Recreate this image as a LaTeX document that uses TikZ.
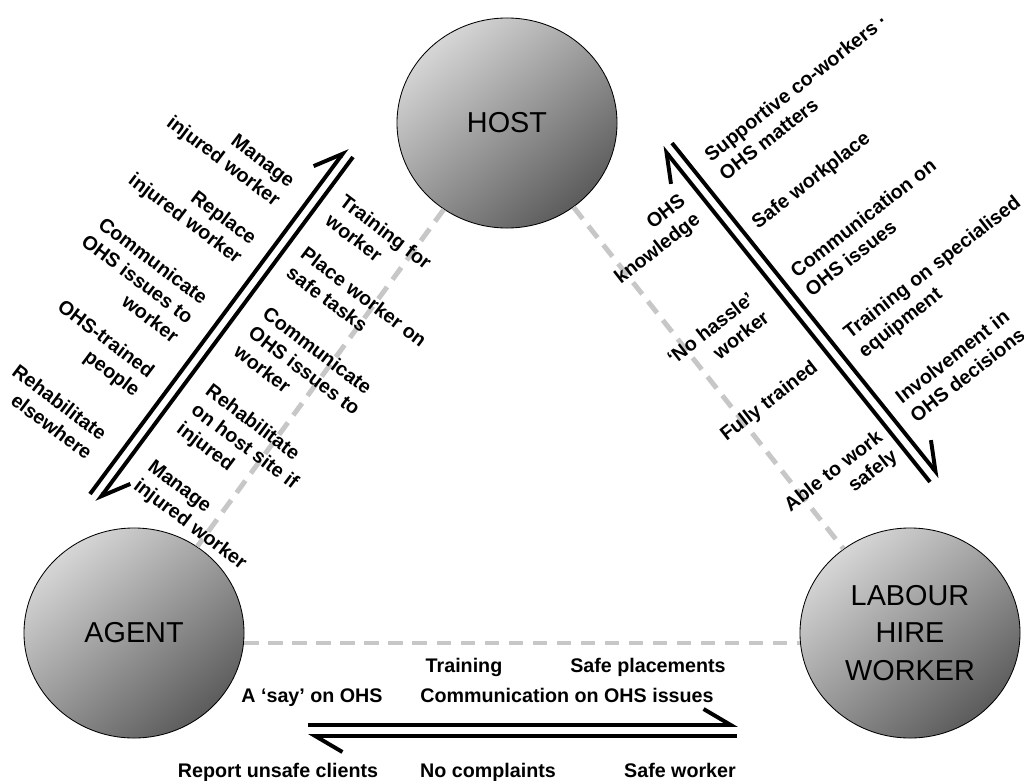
\documentclass[tikz,border=0pt]{standalone}
\usepackage{fontspec}
\setmainfont{Liberation Sans}
\usetikzlibrary{shapes.geometric,arrows.meta}
\tikzset{
    party/.style={ellipse,draw,line width=0.6pt,minimum width=5.5cm,minimum height=5.25cm,inner sep=0pt,
        top color=black!16,bottom color=black!64,shading angle=40,align=center,
        font=\fontsize{20.5}{26.5}\selectfont},
    link/.style={draw=black!22,line width=3.5pt,dash pattern=on 0.37cm off 0.23cm},
    flow/.style={line width=2.8pt,arrows={-Straight Barb[harpoon,length=0.68cm,width=0.8cm]}},
    lbl/.style={inner sep=0pt,font=\fontsize{14}{17}\selectfont\bfseries},
    tagr/.style={lbl,rotate=#1,anchor=north east,align=right},
    tagl/.style={lbl,rotate=#1,anchor=north west,align=left},
    }

\begin{document}
\begin{tikzpicture}[x=0.025cm,y=-0.025cm]
    \useasboundingbox (0,0) rectangle (1024,781);

    \node[party] (host) at (507,123) {HOST};
    \node[party] (agent) at (134,633) {AGENT};
    \node[party] (lhw) at (910,633) {LABOUR\\HIRE\\WORKER};

    \draw[link] (host) -- (agent);
    \draw[link] (host) -- (lhw);
    \draw[link] ([yshift=-0.25cm]agent.east) -- ([yshift=-0.25cm]lhw.west);

    % agent <-> host
    \coordinate (a1) at (90,494);
    \coordinate (a2) at (347,148);
    \coordinate (b1) at (353,157);
    \coordinate (b2) at (97,502);
    \draw[flow] (a1) to (a2);
    \draw[flow] (b1) to (b2);

    % host <-> labour hire worker
    \coordinate (c1) at (930,482);
    \coordinate (c2) at (662,147);
    \coordinate (d1) at (672,143);
    \coordinate (d2) at (940,477);
    \draw[flow] (c1) to (c2);
    \draw[flow] (d1) to (d2);

    % agent <-> labour hire worker
    \coordinate (e1) at (308,725);
    \coordinate (e2) at (738,725);
    \coordinate (f1) at (737,736);
    \coordinate (f2) at (308,736);
    \draw[flow] (e1) to (e2);
    \draw[flow] (f1) to (f2);

    \node[tagr=-37] (ah1) at (297,177) {Manage\\injured worker};
    \node[tagr=-37] (ah2) at (259,234) {Replace\\injured worker};
    \node[tagr=-37] (ah3) at (210,294) {Communicate\\OHS issues to\\worker};
    \node[tagr=-37] (ah4) at (157,367) {OHS-trained\\people};
    \node[tagr=-37] (ah5) at (109,430) {Rehabilitate\\elsewhere};

    \node[tagl=-37] (ha1) at (347,193) {Training for\\worker};
    \node[tagl=-37] (ha2) at (308,245) {Place worker on\\safe tasks};
    \node[tagl=-37] (ha3) at (270,305) {Communicate\\OHS issues to\\worker};
    \node[tagl=-37] (ha4) at (213,382) {Rehabilitate\\on host site if\\injured};
    \node[tagl=-37] (ha5) at (155,458) {Manage\\injured worker};

    \node[tagl=38] (hw1) at (702,151) {Supportive co-workers ·\\OHS matters};
    \node[tagl=38] (hw2) at (749,218) {Safe workplace};
    \node[tagl=38] (hw3) at (788,267) {Communication on\\OHS issues};
    \node[tagl=38] (hw4) at (841,328) {Training on  specialised\\equipment};
    \node[tagl=38] (hw5) at (893,393) {Involvement in\\OHS decisions};

    \node[tagr=38] (wh1) at (678,192) {OHS\\knowledge};
    \node[tagr=38] (wh2) at (747,290) {‘No hassle’\\worker};
    \node[tagr=38] (wh3) at (810,358) {Fully trained};
    \node[tagr=38] (wh4) at (875,428) {Able to work\\safely};

    \node[lbl,anchor=base] (aw1) at (464,672) {Training};
    \node[lbl,anchor=base] (aw2) at (648,672) {Safe placements};
    \node[lbl,anchor=base] (aw3) at (312,702) {A ‘say’ on OHS};
    \node[lbl,anchor=base] (aw4) at (567,702) {Communication on OHS issues};
    \node[lbl,anchor=base] (wa1) at (278,777) {Report unsafe clients};
    \node[lbl,anchor=base] (wa2) at (488,777) {No complaints};
    \node[lbl,anchor=base] (wa3) at (680,777) {Safe worker};
\end{tikzpicture}
\end{document}
